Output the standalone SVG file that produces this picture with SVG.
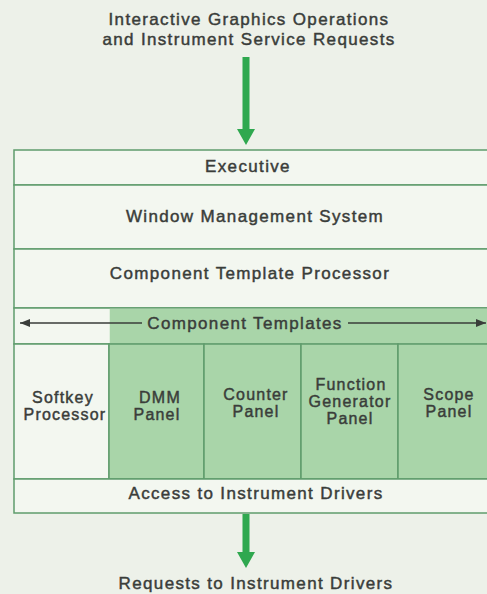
<svg xmlns="http://www.w3.org/2000/svg" width="487" height="594" viewBox="0 0 487 594">
<style>
text{font-family:"Liberation Sans",Arial,sans-serif;font-size:17px;font-weight:normal;fill:#3a3d3a;stroke:#3a3d3a;stroke-width:0.45;letter-spacing:1.35px;text-anchor:middle}
text.p{font-size:16px;letter-spacing:1.2px}
.row{fill:#f3f7f0;stroke:#5f9c6c;stroke-width:1.5}
.gp{fill:#a9d5a9}
.grn{fill:#a9d5a9;stroke:none}
.flow{fill:#2fa84f}
.bi{stroke:#3a3d3a;stroke-width:1.5;fill:none}
</style>
<defs>
<marker id="ah" viewBox="0 0 10 8" refX="10" refY="4" markerWidth="10" markerHeight="8" markerUnits="userSpaceOnUse" orient="auto">
<path d="M0,0 L10,4 L0,8 Z" fill="#3a3d3a"/>
</marker>
</defs>
<rect width="487" height="594" fill="#edf1e9"/>
<g id="input-label">
<text x="249" y="25">Interactive Graphics Operations</text>
<text x="249" y="45">and Instrument Service Requests</text>
</g>
<g id="executive">
<rect class="row" x="14" y="150" width="480" height="35"/>
<text x="248" y="172">Executive</text>
</g>
<g id="window-management">
<rect class="row" x="14" y="185" width="480" height="64"/>
<text x="255" y="222">Window Management System</text>
</g>
<g id="component-template-processor">
<rect class="row" x="14" y="249" width="480" height="59"/>
<text x="250" y="279">Component Template Processor</text>
</g>
<g id="component-templates">
<rect class="row" x="14" y="308" width="480" height="36"/>
<rect class="grn" x="109.75" y="308.75" width="380" height="34.5"/>
<text x="245" y="329">Component Templates</text>
</g>
<g id="softkey-processor">
<rect class="row" x="14" y="344" width="95" height="135"/>
<text class="p" x="63" y="403">Softkey</text>
<text class="p" x="65" y="420">Processor</text>
</g>
<g id="dmm-panel">
<rect class="row gp" x="109" y="344" width="95" height="135"/>
<text class="p" x="160" y="403">DMM</text>
<text class="p" x="157" y="420">Panel</text>
</g>
<g id="counter-panel">
<rect class="row gp" x="204" y="344" width="97" height="135"/>
<text class="p" x="256" y="400">Counter</text>
<text class="p" x="256" y="417">Panel</text>
</g>
<g id="function-generator-panel">
<rect class="row gp" x="301" y="344" width="97" height="135"/>
<text class="p" x="351" y="390">Function</text>
<text class="p" x="350" y="407">Generator</text>
<text class="p" x="350" y="424">Panel</text>
</g>
<g id="scope-panel">
<rect class="row gp" x="398" y="344" width="96" height="135"/>
<text class="p" x="449" y="400">Scope</text>
<text class="p" x="449" y="417">Panel</text>
</g>
<g id="access-drivers">
<rect class="row" x="14" y="479" width="480" height="34"/>
<text x="256" y="499">Access to Instrument Drivers</text>
</g>
<g id="output-label">
<text x="256" y="589">Requests to Instrument Drivers</text>
</g>
<g id="connectors">
<line class="bi" x1="142" y1="323" x2="20" y2="323" marker-end="url(#ah)"/>
<line class="bi" x1="348" y1="323" x2="486" y2="323" marker-end="url(#ah)"/>
<path class="flow" d="M242.5,57 H249.5 V129 H255 L246,145 L237,129 H242.5 Z"/>
<path class="flow" d="M242.5,514 H249.5 V552 H255 L246,568 L237,552 H242.5 Z"/>
</g>
</svg>
